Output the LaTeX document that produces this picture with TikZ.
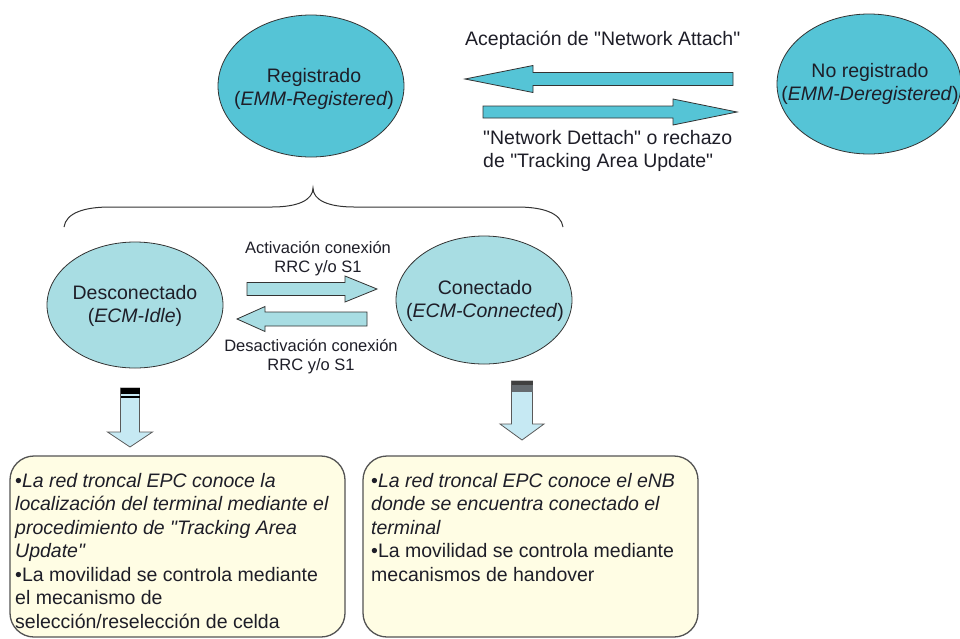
\documentclass[tikz,border=0pt]{standalone}
\usepackage{fontspec}
\setmainfont{Liberation Sans}[Ligatures=TeXOff]
\usetikzlibrary{shapes.geometric}
\definecolor{topfill}{HTML}{55C4D6}
\definecolor{lowfill}{HTML}{A8DDE3}
\definecolor{downfill}{HTML}{C6E9F3}
\definecolor{boxfill}{HTML}{FFFDE4}
\definecolor{txt}{HTML}{1E1E28}
\definecolor{edge}{HTML}{333333}
\tikzset{
  mainfont/.style={font=\fontsize{19.5}{23.5}\selectfont, text=txt},
  smallfont/.style={font=\fontsize{16.5}{19}\selectfont, text=txt},
  stateA/.style={ellipse, draw=edge, line width=0.8pt, fill=topfill, inner sep=0pt},
  stateB/.style={ellipse, draw=edge, line width=0.8pt, fill=lowfill, inner sep=0pt},
  statetext/.style={mainfont, inner sep=0pt, align=center},
  blockA/.style={draw=edge, line width=0.8pt, fill=topfill, line join=miter},
  blockB/.style={draw=edge, line width=0.8pt, fill=lowfill, line join=miter},
  blockC/.style={draw=gray!70!black, line width=0.8pt, fill=downfill, line join=miter},
  infobox/.style={draw=gray!65!black, line width=1.3pt, fill=boxfill, rounded corners=24pt},
  label/.style={mainfont, inner sep=0pt},
  slabel/.style={smallfont, inner sep=0pt, align=center},
  boxtext/.style={mainfont, inner sep=0pt, align=left, anchor=north west},
}
% horizontal block arrow: tail x, tip x, centre y, shaft half, head half, head base x, style
\newcommand\harr[7]{\path[#7] (#1,{#3-#4}) -- (#6,{#3-#4}) -- (#6,{#3-#5}) -- (#2,#3) -- (#6,{#3+#5}) -- (#6,{#3+#4}) -- (#1,{#3+#4}) -- cycle;}
% vertical block arrow pointing down: centre x, top y, tip y, shaft half, head half, head base y, style
\newcommand\varr[7]{\path[#7] ({#1-#4},#2) -- ({#1-#4},#6) -- ({#1-#5},#6) -- (#1,#3) -- ({#1+#5},#6) -- ({#1+#4},#6) -- ({#1+#4},#2) -- cycle;}
\begin{document}
\begin{tikzpicture}[x=1pt,y=-1pt]
\useasboundingbox (0,0) rectangle (960,638);
\fill[white] (0,0) rectangle (960,638);

% top states
\node[stateA, minimum width=186pt, minimum height=142pt] (reg) at (311,86) {};
\node[statetext] (regtxt) at (314,89) {Registrado\\(\textit{EMM-Registered})};
\node[stateA, minimum width=184pt, minimum height=140pt] (noreg) at (869,84) {};
\node[statetext] (noregtxt) at (870,84) {No registrado\\(\textit{EMM-Deregistered})};

% top arrows
\harr{733}{465}{79}{6.5}{13.5}{533}{blockA}
\harr{483}{737}{112}{6}{13}{673}{blockA}
\node[label, anchor=west] (acc) at (465,40) {Aceptación de "Network Attach"};
\node[label, anchor=west, align=left] (det) at (483,151) {"Network Dettach" o rechazo\\de "Tracking Area Update"};

% brace
\draw[edge, line width=1pt] (64,227) .. controls (66,213) and (84,207) .. (110,207) -- (272,207) .. controls (298,207) and (313,200) .. (313,188) .. controls (313,200) and (328,207) .. (354,207) -- (517,207) .. controls (543,207) and (561,213) .. (563,227);

% lower states
\node[stateB, minimum width=176pt, minimum height=126pt] (idle) at (135,305) {};
\node[statetext] (idletxt) at (135,306) {Desconectado\\(\textit{ECM-Idle})};
\node[stateB, minimum width=176pt, minimum height=128pt] (conn) at (484,300) {};
\node[statetext] (conntxt) at (485,301) {Conectado\\(\textit{ECM-Connected})};

% lower arrows
\harr{247}{377}{289}{6.5}{13}{345}{blockB}
\harr{367}{237}{319}{7}{12.5}{265}{blockB}
\node[slabel] (act) at (318,259) {Activación conexión\\RRC y/o S1};
\node[slabel] (des) at (311,357) {Desactivación conexión\\RRC y/o S1};

% down arrows
\varr{130}{388}{447}{9.5}{22.5}{432}{blockC}
\fill[black] (120.5,388) rectangle (139.5,394);
\fill[black] (120.5,395.5) rectangle (139.5,398);
\varr{522}{381}{440}{10.5}{22}{424}{blockC}
\fill[black!75] (511.5,381) rectangle (532.5,385);
\fill[gray!80!cyan!60!black] (511.5,385) rectangle (532.5,392);

% boxes
\path[infobox] (10,456) rectangle (345,637);
\path[infobox] (363,456) rectangle (698,637);
\node[boxtext] (t1) at (15,473) {•\textit{La red troncal EPC conoce la}\\\textit{localización del terminal mediante el}\\\textit{procedimiento de "Tracking Area}\\\textit{Update"}\\•La movilidad se controla mediante\\el mecanismo de\\selección/reselección de celda};
\node[boxtext] (t2) at (371,473) {•\textit{La red troncal EPC conoce el eNB}\\\textit{donde se encuentra conectado el}\\\textit{terminal}\\•La movilidad se controla mediante\\mecanismos de handover};
\end{tikzpicture}
\end{document}
